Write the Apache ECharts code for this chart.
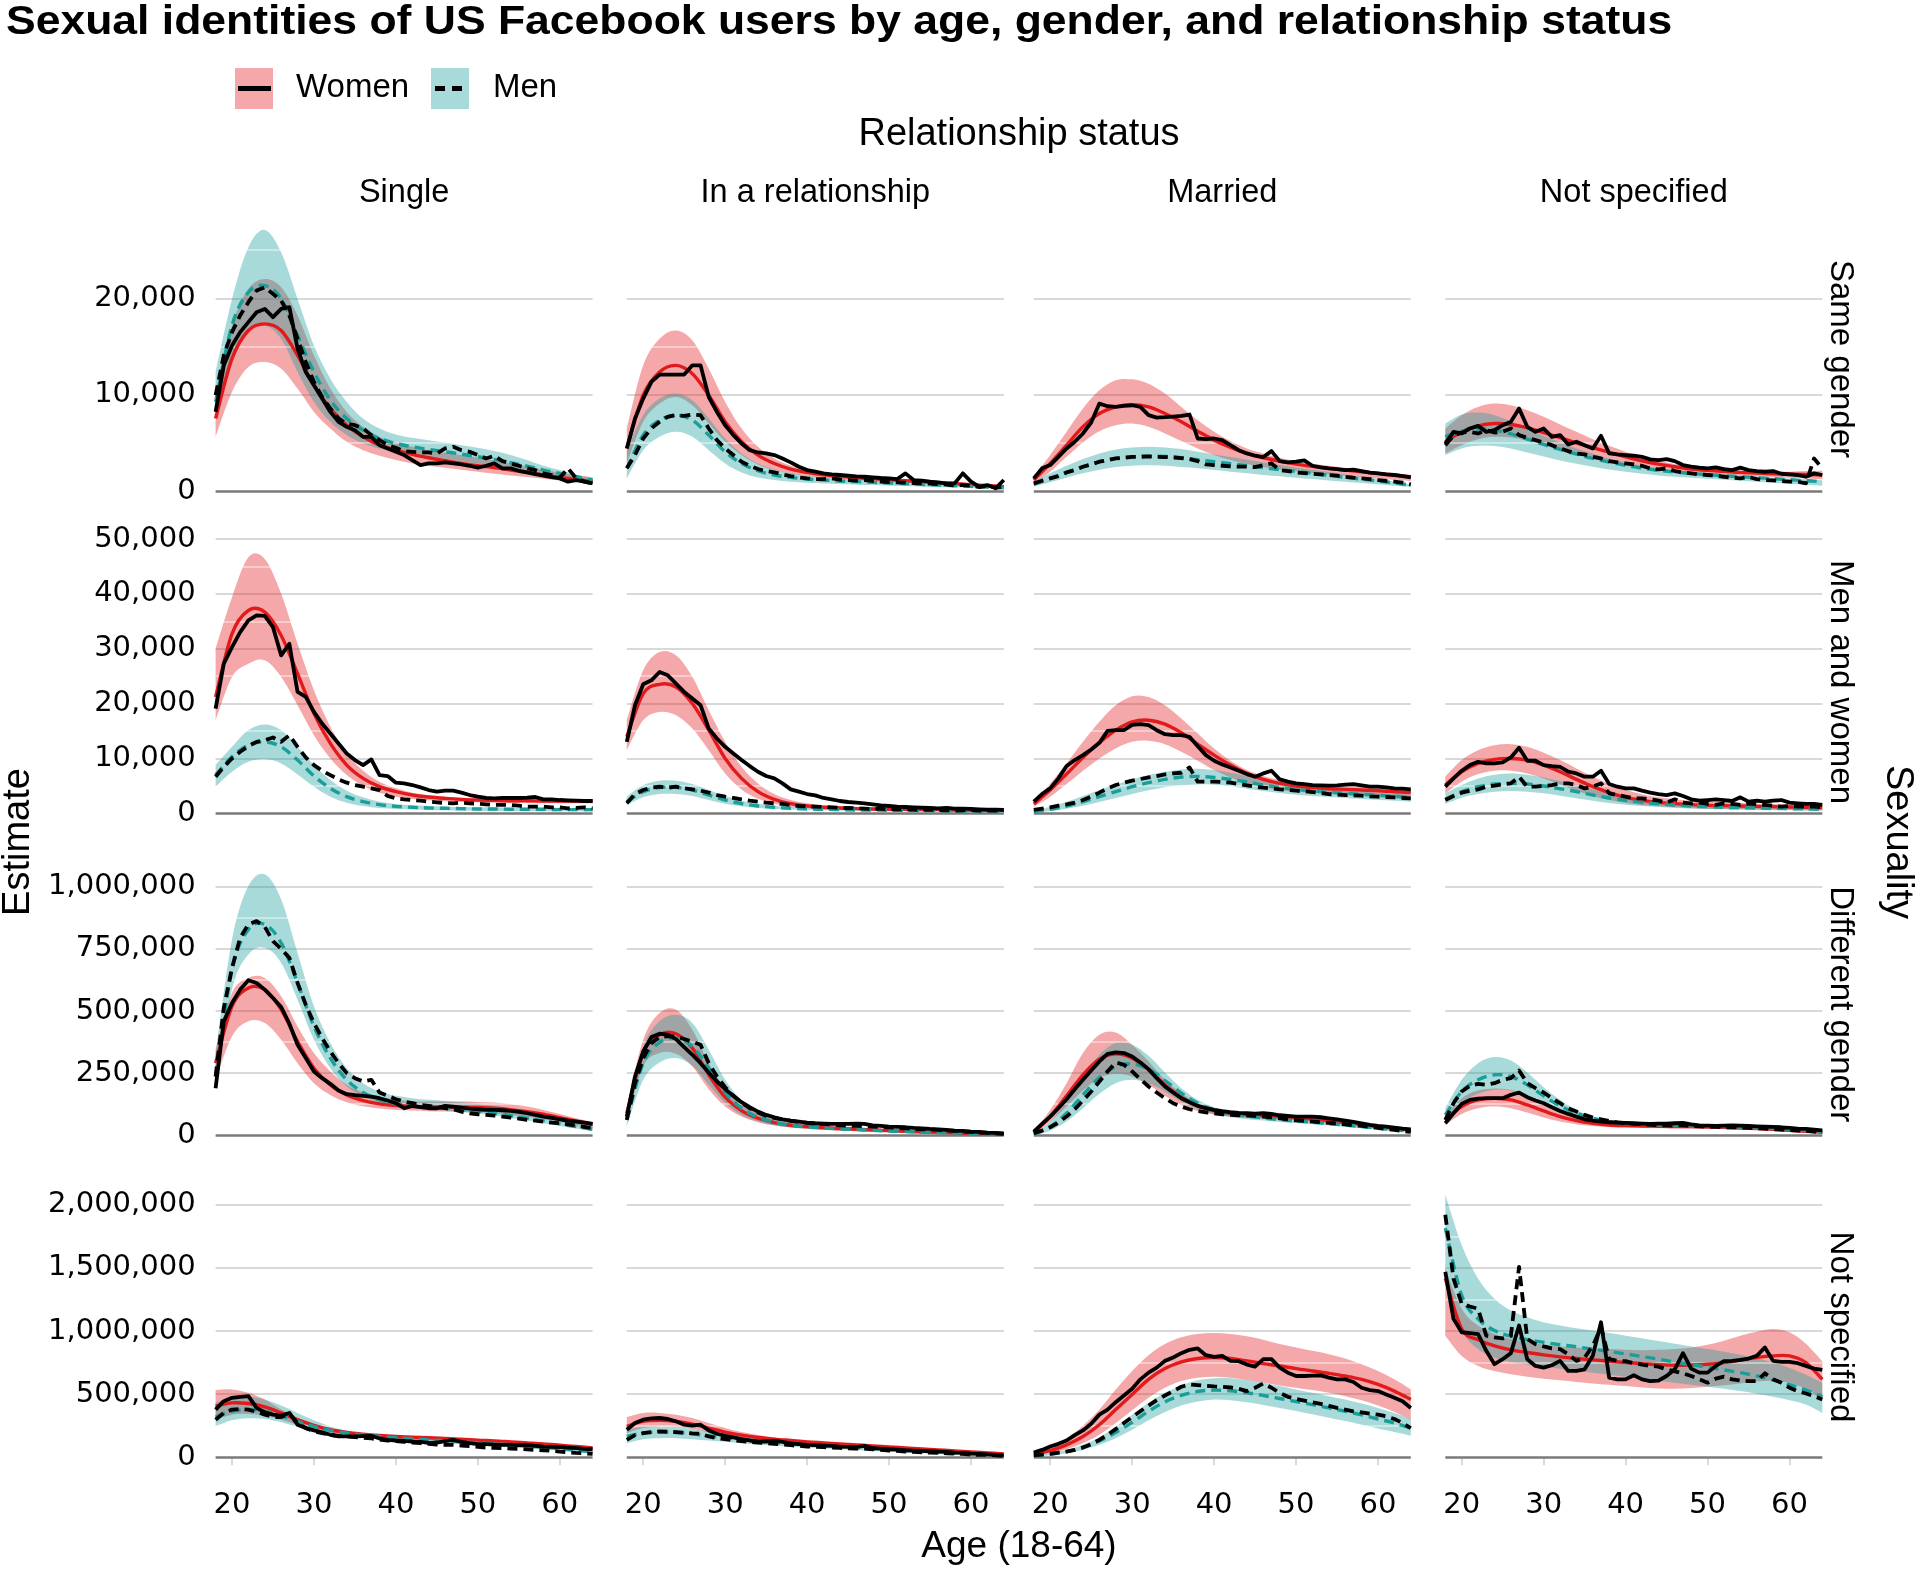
<!DOCTYPE html>
<html><head><meta charset="utf-8">
<script src="https://cdn.jsdelivr.net/npm/echarts@6/dist/echarts.min.js"></script>
<style>html,body{margin:0;padding:0;background:#fff}#chart{width:1920px;height:1570px}</style>
</head><body><div id="chart"></div>
<script>
// ---------- axes / categories ----------
const ages = [18,19,20,21,22,23,24,25,26,27,28,29,30,31,32,33,34,35,36,37,38,39,40,41,42,43,44,45,46,47,48,49,50,51,52,53,54,55,56,57,58,59,60,61,62,63,64];
const fitAges = [18,20,22,24,26,28,30,32,34,36,38,40,42,44,46,48,50,52,54,56,58,60,62,64];
const xTicks = [20,30,40,50,60];
const row1Ticks = [0,10000,20000];
const row2Ticks = [0,10000,20000,30000,40000,50000];
const row3Ticks = [0,250000,500000,750000,1000000];
const row4Ticks = [0,500000,1000000,1500000,2000000];
const relationshipStatus = ['Single','In a relationship','Married','Not specified'];
const sexuality = ['Same gender','Men and women','Different gender','Not specified'];

// ---------- Same gender ----------
const SG_Sin_wHi = [9940,17180,20980,22010,21150,18220,14080,10630,8210,6660,5620,5000,4590,4240,3970,3730,3450,3170,2860,2520,2170,1900,1660,1410];
const SG_Sin_wFit = [7520,13730,16660,17350,16660,14080,10970,8560,6830,5620,4760,4240,3800,3450,3140,2860,2620,2420,2170,1930,1660,1410,1210,970];
const SG_Sin_wLo = [5620,10280,12870,13390,12700,10630,8210,6490,5110,4240,3660,3210,2860,2620,2420,2210,2000,1790,1620,1450,1280,1100,970,790];
const SG_Sin_mHi = [12350,19900,25300,27100,24770,19940,15100,11660,9250,7520,6490,5870,5520,5280,5040,4760,4490,4140,3730,3210,2620,2170,1725,1310];
const SG_Sin_mFit = [9250,17180,20630,21320,19940,16150,12350,9420,7520,6310,5450,4930,4590,4310,4070,3830,3550,3280,2930,2590,2170,1830,1480,1140];
const SG_Sin_mLo = [7520,14080,16660,17180,15800,12350,9250,7180,5800,4930,4420,4070,3800,3550,3350,3100,2860,2620,2350,2070,1790,1520,1280,1040];
const SG_Sin_wObs = [8210,13040,15110,16490,17530,18560,18900,18040,18900,19080,14770,12350,10970,9590,8210,7180,6660,6310,5620,5620,4760,4420,4070,3730,3210,2690,2860,2860,2970,2860,2760,2620,2420,2620,2860,2350,2350,2100,1930,1760,1590,1450,1310,970,1140,970,790];
const SG_Sin_mObs = [9940,14080,16490,18220,19600,20800,21150,20460,19770,18220,15800,13390,11320,9760,8560,7520,7000,6830,6490,5800,5280,4760,4490,4140,4070,4000,4000,3900,4420,4590,4240,4070,3730,3380,3660,3100,2860,2620,2350,2170,1830,1660,1380,2350,1310,970,790];

const SG_Rel_wHi = [6490,13040,15800,16660,15630,12700,9250,6490,4590,3380,2620,2170,1900,1725,1590,1450,1310,1210,1100,1000,900,790,690,590];
const SG_Rel_wFit = [4420,9940,12350,13040,12180,9940,7180,5110,3730,2860,2280,1930,1690,1520,1380,1280,1170,1070,970,860,760,660,550,450];
const SG_Rel_wLo = [2860,7180,9070,9760,8900,7000,5110,3730,2760,2170,1790,1550,1380,1240,1140,1040,930,860,760,690,590,520,450,345];
const SG_Rel_mHi = [4240,7870,9590,10110,9420,7520,5450,3900,2860,2240,1830,1590,1410,1280,1170,1070,970,860,760,690,590,520,410,345];
const SG_Rel_mFit = [2350,5800,7350,7870,7350,5800,4070,2860,2100,1660,1410,1240,1140,1040,970,900,830,760,690,620,550,480,410,345];
const SG_Rel_mLo = [1310,4240,5620,6140,5620,4240,2860,1930,1410,1140,970,860,790,720,660,620,550,520,450,410,380,345,310,280];
const SG_Rel_wObs = [4420,7520,9590,11320,12080,12080,12080,12080,13040,13040,9760,8210,6830,5800,4930,4240,4000,3900,3730,3380,2970,2520,2170,2000,1830,1725,1660,1590,1520,1480,1410,1350,1310,1240,1830,1140,1070,970,900,790,790,1830,970,450,620,280,1140];
const SG_Rel_mObs = [2350,3730,5450,6490,7180,7700,7870,7800,7940,7870,6490,5280,4420,3730,3040,2620,2280,2070,1930,1725,1550,1410,1310,1240,1240,1310,1170,1140,1070,1140,1040,970,930,900,860,830,790,760,720,660,590,620,550,410,550,345,450];

const SG_Mar_wHi = [1480,3730,6140,8560,10450,11490,11590,11140,10110,8730,7350,6140,5180,4420,3900,3450,3100,2830,2620,2420,2170,1930,1660,1380];
const SG_Mar_wFit = [1140,2860,4760,6660,8040,8730,8970,8730,8040,7180,6210,5280,4520,3900,3450,3100,2790,2550,2350,2170,2000,1830,1660,1480];
const SG_Mar_wLo = [790,2000,3550,5040,6210,6830,7000,6660,5970,5180,4420,3730,3210,2790,2480,2240,2040,1860,1725,1590,1450,1310,1170,1040];
const SG_Mar_mHi = [970,1830,2620,3310,3900,4310,4520,4590,4520,4350,4070,3800,3520,3240,2970,2690,2450,2210,1970,1725,1480,1240,970,690];
const SG_Mar_mFit = [690,1310,1930,2520,3040,3380,3550,3620,3590,3450,3240,3040,2830,2620,2420,2210,2040,1830,1620,1410,1240,1040,830,620];
const SG_Mar_mLo = [450,900,1380,1830,2210,2480,2620,2660,2620,2480,2350,2170,2000,1830,1660,1520,1380,1240,1100,970,830,690,550,410];
const SG_Mar_wObs = [1310,2350,2690,3550,4420,5110,5970,7110,9070,8800,8730,8830,8900,8730,7870,7620,7660,7730,7800,7940,5450,5380,5450,5280,4760,4240,3900,3660,3520,4140,3100,2970,3040,3170,2620,2450,2350,2280,2170,2210,2070,1900,1830,1725,1660,1550,1410];
const SG_Mar_mObs = [790,1070,1310,1550,1930,2170,2520,2760,3040,3210,3380,3450,3550,3550,3590,3550,3520,3480,3420,3310,3100,2760,2690,2620,2550,2520,2520,2480,2690,2860,2170,2070,1930,1860,1790,1725,1660,1590,1480,1380,1310,1240,1140,1040,970,860,690];

const SG_Uns_wHi = [6490,7870,8730,9070,8900,8380,7700,6900,6140,5380,4690,4070,3550,3140,2790,2520,2350,2210,2100,2040,2000,2000,2070,2100];
const SG_Uns_wFit = [5110,6140,6760,7000,6900,6560,6070,5550,5000,4490,4000,3550,3140,2790,2520,2280,2140,2040,1930,1860,1790,1760,1725,1660];
const SG_Uns_wLo = [3900,4760,5380,5620,5550,5240,4760,4280,3800,3350,2970,2620,2350,2140,1970,1830,1725,1660,1590,1520,1450,1380,1310,1210];
const SG_Uns_mHi = [7000,7940,8140,7870,7250,6490,5730,5040,4420,3860,3380,2970,2620,2350,2140,1970,1830,1725,1620,1520,1410,1310,1210,1100];
const SG_Uns_mFit = [5620,6210,6420,6310,5930,5380,4830,4310,3830,3380,3000,2660,2380,2140,1970,1830,1690,1590,1480,1380,1280,1170,1070,970];
const SG_Uns_mLo = [3730,4420,4690,4660,4420,4000,3590,3170,2830,2520,2240,2000,1790,1620,1480,1380,1280,1170,1070,970,860,760,660,550];
const SG_Uns_wObs = [4930,6140,5970,6490,6760,6140,6310,6830,7180,8560,6660,6140,6490,5620,5800,4830,5110,4760,4420,5730,3900,3800,3730,3660,3550,3280,3210,3310,3100,2690,2520,2420,2350,2450,2280,2170,2420,2170,2070,2000,2070,1790,1725,1660,1480,1830,1660];
const SG_Uns_mObs = [4760,5730,6070,6140,5970,6310,6070,6140,6490,5800,5520,5280,5040,4760,4420,4140,3900,3800,3550,3380,3100,2970,2860,2760,2620,2350,2240,2350,2070,1930,1830,1725,1660,1590,1480,1380,1310,1450,1240,1140,1100,1040,970,970,790,3380,2350];

// ---------- Men and women ----------
const MW_Sin_wHi = [30000,39390,46660,46360,40000,30900,22420,15760,10910,7760,5760,4545,3760,3270,2970,2790,2670,2610,2545,2545,2545,2545,2545,2545];
const MW_Sin_wFit = [21200,32720,36970,36660,32420,25450,18180,12730,8790,6360,4850,3940,3330,2970,2730,2545,2420,2360,2300,2300,2240,2240,2240,2240];
const MW_Sin_wLo = [16970,24850,27270,27880,24850,19700,14240,10000,6970,4970,3760,3030,2610,2360,2180,2060,2000,1940,1880,1880,1820,1820,1820,1820];
const MW_Sin_mHi = [8790,12120,15150,16180,15150,12120,8790,6060,4120,2910,2120,1700,1450,1330,1210,1150,1090,1090,1030,1030,970,970,970,910];
const MW_Sin_mFit = [6970,10300,12420,13030,12120,9700,6790,4550,3030,2120,1575,1270,1090,970,910,850,790,790,730,730,730,670,670,670];
const MW_Sin_mLo = [4850,7580,9390,9880,9090,7090,4850,3030,1940,1330,970,790,670,610,545,485,485,425,425,425,360,360,360,360];
const MW_Sin_wObs = [19090,27270,30300,33030,35150,36060,36000,33940,28790,30910,22120,21210,18480,16360,14540,12730,10910,9700,8790,9820,6970,6790,5580,5450,5150,4730,4240,3940,4120,4120,3760,3330,3030,2790,2730,2790,2790,2790,2850,2970,2545,2545,2420,2360,2300,2240,2240];
const MW_Sin_mObs = [6670,8480,10000,11210,12240,13030,13330,13820,13030,14240,12120,10180,8790,7760,6970,6180,5580,5150,4850,4550,4240,3150,2730,2545,2420,2300,2120,2000,1880,1820,1940,1820,1760,1640,1520,1520,1520,1390,1210,1210,1210,1090,1090,910,970,1090,910];

const MW_Rel_wHi = [16970,26060,29390,28790,24850,18790,13030,8480,5450,3510,2420,1820,1450,1270,1150,1090,1030,970,910,850,850,790,790,730];
const MW_Rel_wFit = [13940,21820,23510,23030,20000,15150,10000,6360,3940,2545,1760,1330,1090,970,850,790,730,730,670,670,610,610,545,545];
const MW_Rel_wLo = [11510,16970,18480,17880,15450,11510,7270,4360,2670,1760,1210,910,730,670,610,545,485,485,425,425,425,360,360,360];
const MW_Rel_mHi = [3030,5150,5940,5940,5330,4240,3150,2300,1760,1390,1150,1030,910,850,790,730,670,670,610,610,545,545,485,485];
const MW_Rel_mFit = [2120,3940,4670,4730,4240,3330,2420,1760,1330,1090,910,790,730,670,610,610,545,545,485,485,425,425,425,360];
const MW_Rel_mLo = [1520,2910,3510,3510,3150,2420,1760,1270,970,790,670,610,545,485,485,425,425,360,360,360,300,300,300,240];
const MW_Rel_wObs = [13030,19700,23510,24240,25760,25150,23630,22120,20910,19700,15450,13640,12120,10910,9700,8610,7580,6790,6360,5450,4360,3940,3510,3270,2790,2545,2240,2060,1940,1820,1640,1450,1330,1210,1150,1090,1030,970,910,970,850,850,790,730,670,670,610];
const MW_Rel_mObs = [1820,3510,4240,4670,4850,4670,4850,4545,4360,4120,3760,3330,3030,2790,2545,2300,2120,1940,1820,1700,1520,1330,1270,1210,1150,1090,1030,970,910,850,790,790,730,730,670,670,610,610,610,545,485,545,610,485,485,485,485];

const MW_Mar_wHi = [2120,5450,9090,13030,16670,19700,21330,21210,19700,17270,14540,11820,9580,7880,6790,6060,5580,5270,5090,4970,4850,4730,4610,4480];
const MW_Mar_wFit = [1700,4240,7150,10180,12850,15150,16670,16970,16240,14670,12600,10600,8790,7270,6180,5450,4970,4670,4480,4360,4240,4120,3940,3760];
const MW_Mar_wLo = [1210,3030,5330,7760,10000,11820,13030,13210,12600,11210,9580,7880,6540,5450,4730,4240,3940,3760,3640,3510,3390,3270,3150,3030];
const MW_Mar_mHi = [485,1210,2120,3150,4240,5270,6180,6970,7580,8000,8120,7880,7390,6790,6180,5640,5150,4730,4420,4180,3940,3760,3580,3390];
const MW_Mar_mFit = [300,730,1330,2120,3030,3940,4850,5580,6180,6610,6730,6540,6180,5700,5150,4730,4360,4060,3820,3640,3450,3270,3090,2910];
const MW_Mar_mLo = [180,425,850,1390,2060,2790,3510,4180,4730,5090,5270,5210,4910,4480,4060,3700,3390,3150,2970,2790,2610,2420,2300,2120];
const MW_Mar_wObs = [2120,3510,4545,6360,8610,9700,10600,11630,12850,15030,15150,15150,16120,16240,16060,15150,14420,14240,14240,13940,12240,10600,9580,8910,8360,7760,7150,6670,7270,7760,6180,5760,5450,5330,5150,5090,5030,5090,5210,5330,5090,4850,4850,4730,4545,4480,4360];
const MW_Mar_mObs = [610,850,1090,1390,1640,1940,2420,3030,3760,4545,5150,5580,5940,6240,6540,6790,7090,7270,7390,8360,5760,5760,5760,5700,5580,5330,5090,4850,4670,4545,4360,4240,4120,4000,3880,3700,3510,3390,3330,3270,3210,3090,3030,2970,2910,2790,2730];

const MW_Uns_wHi = [6670,9700,11510,12420,12600,12120,11030,9700,8180,6670,5330,4240,3450,2910,2545,2300,2120,2000,1880,1760,1700,1640,1575,1520];
const MW_Uns_wFit = [5150,7580,9090,9820,10000,9700,8790,7580,6180,4850,3760,2910,2360,2000,1760,1575,1450,1390,1330,1270,1210,1150,1090,1030];
const MW_Uns_wLo = [3640,5760,7150,7760,7760,7270,6360,5270,4120,3150,2420,1880,1520,1270,1090,970,850,790,730,730,670,670,610,610];
const MW_Uns_mHi = [3640,5150,6360,7030,7270,7030,6540,5880,5150,4360,3640,3030,2545,2120,1820,1575,1390,1270,1150,1090,1030,970,910,850];
const MW_Uns_mFit = [2545,3940,4850,5330,5450,5330,4970,4480,3940,3330,2790,2360,2000,1760,1520,1330,1210,1090,1030,970,910,850,790,730];
const MW_Uns_mLo = [1700,2850,3510,3940,4060,3940,3640,3210,2730,2300,1880,1575,1330,1150,970,850,790,730,670,610,545,545,485,485];
const MW_Uns_wObs = [4850,6360,7760,8790,9390,9090,9090,9270,10180,11940,9580,9580,8790,8610,8480,7580,7270,6670,6670,7760,5330,4850,4545,4545,4120,3760,3510,3330,3640,3150,2545,2300,2420,2545,2420,2240,2910,2120,2300,2120,2300,2420,1940,1820,1700,1700,1520];
const MW_Uns_mObs = [2420,3150,3760,4120,4360,4850,5030,5270,5450,6670,4850,4850,4970,5150,5450,5450,5150,4545,4850,5450,3640,3330,3030,2730,2730,2545,2300,1940,2545,1940,1820,1940,1700,1520,1820,1700,1520,1820,1640,1520,1390,1210,1330,1210,1210,1210,1090];

// ---------- Different gender ----------
const DG_Sin_wHi = [344100,572500,633000,633000,559100,438100,330600,256700,202900,172000,153200,142500,138400,135700,135700,135700,134400,131700,125000,115600,102100,86000,68500,52400];
const DG_Sin_wFit = [290300,518800,592700,586000,505300,377700,270100,202900,162600,139800,126300,119600,115600,114200,112900,112900,111600,108900,103500,95400,84700,71200,57800,44400];
const DG_Sin_wLo = [223100,397800,458300,451600,384400,290300,209700,162600,133100,116900,107500,102100,99500,96800,95400,94100,92700,88700,82000,75300,64500,53800,41700,29600];
const DG_Sin_mHi = [330600,787600,1002600,1049700,948900,733800,518800,370900,270100,209700,176100,158600,149200,142500,138400,133100,126300,118300,107500,95400,82000,68500,55100,41700];
const DG_Sin_mFit = [236500,666600,827900,848100,774100,612900,438100,310500,223100,172000,142500,126300,118300,112900,108900,103500,96800,88700,79300,68500,57800,45700,34900,24200];
const DG_Sin_mLo = [182800,586000,727100,754000,693500,545700,384400,270100,196200,155900,131700,118300,110200,104800,99500,94100,87400,79300,69900,59100,48400,37600,26900,17500];
const DG_Sin_wObs = [189500,458300,532200,586000,623600,612900,586000,552400,516100,448900,364200,310500,256700,229800,207000,180100,165300,161300,158600,155900,149200,139800,129000,108900,118300,112900,108900,108900,118300,115600,111600,107500,104800,102100,102100,100800,98100,94100,88700,82000,75300,69900,64500,59100,55100,51100,45700];
const DG_Sin_mObs = [236500,512100,673300,794300,848100,861500,838700,780900,750000,713700,612900,525500,451600,391100,337300,290300,250000,229800,216400,223100,172000,158600,145200,135700,129000,122300,118300,112900,108900,104800,95400,88700,84700,82000,79300,75300,71200,67200,61800,59100,55100,51100,48400,44400,39000,33600,28200];

const DG_Rel_wHi = [115600,384400,491900,505300,424700,290300,189500,126300,88700,67200,53800,45700,40300,36300,32300,28200,25500,21500,18800,16100,13400,10800,9400,8100];
const DG_Rel_wFit = [88700,330600,404500,408600,350800,243300,153200,99500,68500,51100,40300,34900,30900,26900,24200,21500,18800,16100,13400,12100,9400,8100,6700,5400];
const DG_Rel_wLo = [61800,276900,330600,327900,276900,185500,115600,75300,52400,39000,30900,25500,21500,18800,16100,13400,12100,9400,8100,6700,5400,4000,4000,2700];
const DG_Rel_mHi = [102100,357500,458300,485200,451600,344100,223100,139800,91400,64500,49700,41700,36300,32300,28200,25500,22800,20200,17500,14800,12100,10800,8100,6700];
const DG_Rel_mFit = [61800,290300,373600,391100,357500,270100,172000,108900,72600,52400,40300,33600,29600,25500,22800,20200,17500,14800,13400,10800,9400,8100,6700,5400];
const DG_Rel_mLo = [34900,223100,293000,310500,279600,202900,129000,82000,55100,40300,32300,26900,22800,20200,17500,14800,13400,10800,9400,8100,6700,5400,4000,2700];
const DG_Rel_wObs = [75300,236500,337300,395100,408600,404500,387100,354800,323900,290300,252700,216400,185500,158600,133100,112900,95400,82000,72600,64500,59100,55100,51100,48400,47000,45700,45700,45700,47000,45700,40300,37600,34900,33600,32300,29600,28200,25500,24200,21500,18800,17500,14800,13400,10800,9400,8100];
const DG_Rel_mObs = [61800,209700,310500,370900,395100,397800,397800,387100,376300,364200,290300,236500,193500,158600,131700,108900,91400,78000,69900,63200,57800,53800,49700,47000,45700,43000,40300,39000,37600,36300,34900,33600,32300,29600,28200,25500,24200,22800,21500,18800,17500,14800,13400,10800,9400,8100,5400];

const DG_Mar_wHi = [14800,102100,209700,330600,404500,414000,364200,297000,223100,169300,131700,108900,98100,92700,88700,84700,79300,72600,64500,55100,45700,37600,30900,24200];
const DG_Mar_wFit = [10800,75300,158600,243300,306400,327900,310500,263400,202900,153200,118300,98100,87400,82000,78000,73900,69900,64500,57800,51100,43000,34900,28200,21500];
const DG_Mar_wLo = [8100,55100,115600,180100,229800,247300,236500,202900,158600,122300,98100,83300,75300,71200,67200,63200,59100,53800,48400,41700,34900,28200,21500,16100];
const DG_Mar_mHi = [8100,55100,135700,236500,323900,370900,364200,319900,252700,189500,142500,112900,95400,84700,76600,69900,63200,56400,49700,43000,36300,29600,22800,16100];
const DG_Mar_mFit = [4000,34900,88700,162600,232500,276900,287600,266100,220400,169300,129000,102100,86000,76600,69900,63200,57800,52400,47000,41700,34900,28200,22800,16100];
const DG_Mar_mLo = [1300,18800,55100,108900,166700,209700,223100,209700,176100,135700,104800,84700,72600,64500,59100,53800,48400,44400,39000,33600,28200,22800,17500,12100];
const DG_Mar_wObs = [14800,45700,75300,108900,145200,185500,223100,260700,297000,327900,333300,330600,317200,293000,266100,229800,196200,172000,149200,133100,118300,108900,102100,96800,92700,90000,88700,87400,88700,86000,80600,78000,75300,75300,75300,72600,68500,64500,59100,53800,48400,41700,37600,34900,30900,26900,24200];
const DG_Mar_mObs = [8100,18800,32300,51100,75300,104800,139800,176100,216400,256700,293000,283600,256700,225800,196200,172000,149200,129000,115600,104800,98100,92700,88700,84700,82000,80600,79300,78000,75300,72600,68500,64500,60500,57800,55100,52400,49700,47000,44400,40300,37600,33600,29600,25500,21500,17500,13400];

const DG_Uns_wHi = [75300,149200,180100,188200,182800,162600,131700,99500,75300,59100,51100,47000,45700,44400,43000,43000,41700,40300,37600,34900,30900,26900,21500,16100];
const DG_Uns_wFit = [59100,115600,142500,149200,142500,122300,98100,75300,59100,48400,41700,39000,37600,36300,34900,34900,33600,32300,29600,26900,24200,20200,16100,12100];
const DG_Uns_wLo = [41700,86000,108900,115600,108900,91400,71200,55100,44400,37600,33600,30900,29600,28200,28200,26900,26900,25500,24200,21500,18800,16100,12100,8100];
const DG_Uns_mHi = [108900,223100,290300,314500,301100,252700,193500,142500,102100,75300,59100,51100,47000,44400,41700,40300,39000,37600,34900,32300,28200,24200,20200,16100];
const DG_Uns_mFit = [82000,176100,223100,243300,236500,202900,158600,118300,88700,68500,55100,48400,44400,41700,39000,37600,36300,34900,32300,29600,26900,22800,18800,14800];
const DG_Uns_mLo = [55100,129000,166700,182800,180100,155900,122300,91400,68500,53800,45700,40300,37600,34900,33600,32300,30900,29600,26900,24200,21500,18800,14800,10800];
const DG_Uns_wObs = [48400,88700,126300,142500,147800,149200,149200,149200,162600,172000,153200,139800,129000,112900,98100,86000,75300,64500,59100,55100,52400,51100,49700,48400,47000,45700,47000,47000,48400,49700,44400,40300,39000,37600,39000,40300,39000,37600,36300,34900,33600,32300,29600,26900,25500,22800,20200];
const DG_Uns_mObs = [61800,129000,176100,198900,207000,202900,209700,223100,229800,260700,209700,189500,172000,149200,129000,108900,95400,82000,71200,64500,57800,52400,48400,45700,44400,41700,40300,40300,39000,40300,37600,36300,34900,33600,32300,32300,30900,29600,28200,26900,24200,22800,21500,18800,17500,14800,12100];

// ---------- Not specified ----------
const NS_Sin_wHi = [532000,537300,510700,457500,377700,311200,258000,218100,191500,175600,164900,159600,154300,151600,149000,143600,138300,133000,125000,117000,109100,98400,87800,77100];
const NS_Sin_wFit = [404300,430900,425600,399000,351100,297900,252700,218100,196800,183500,172900,164900,159600,154300,149000,143600,135700,130300,122400,114400,106400,95800,85100,74500];
const NS_Sin_wLo = [297900,337800,343100,329800,297900,258000,223400,196800,178200,164900,156900,149000,143600,138300,133000,127700,122400,117000,109100,101100,93100,85100,74500,63800];
const NS_Sin_mHi = [430900,470800,478800,457500,409600,351100,292600,244700,212800,191500,178200,167600,159600,151600,143600,135700,127700,119700,111700,103700,93100,82500,69200,55900];
const NS_Sin_mFit = [319200,364400,377700,364400,329800,284600,244700,212800,191500,175600,164900,154300,146300,138300,130300,122400,114400,106400,98400,90400,79800,69200,55900,42600];
const NS_Sin_mLo = [244700,292600,308600,303200,276600,239400,204800,180900,164900,151600,143600,135700,127700,119700,111700,103700,95800,87800,79800,71800,61200,50500,39900,29300];
const NS_Sin_wObs = [377700,444200,470800,478800,484100,391000,356400,337800,329800,351100,258000,231400,212800,196800,178200,164900,164900,164900,167600,170200,149000,138300,133000,130300,125000,122400,114400,117000,127700,138300,122400,111700,103700,103700,101100,98400,98400,95800,95800,90400,85100,82500,79800,77100,71800,66500,63800];
const NS_Sin_mObs = [297900,351100,377700,383000,377700,359100,337800,319200,319200,345800,271300,231400,204800,191500,178200,170200,164900,159600,154300,149000,141000,133000,127700,122400,117000,111700,106400,101100,98400,98400,93100,87800,82500,77100,74500,71800,69200,66500,63800,58500,55900,50500,45200,39900,34600,31900,26600];

const NS_Rel_wHi = [319200,351100,351100,337800,311200,271300,231400,199500,175600,156900,143600,133000,122400,114400,106400,98400,90400,82500,74500,66500,58500,50500,42600,34600];
const NS_Rel_wFit = [244700,284600,292600,284600,263300,231400,199500,175600,156900,143600,133000,122400,114400,106400,98400,90400,82500,74500,66500,58500,50500,42600,34600,26600];
const NS_Rel_wLo = [191500,231400,244700,239400,223400,196800,172900,151600,138300,127700,117000,109100,101100,93100,85100,77100,69200,61200,53200,45200,37200,31900,23900,18600];
const NS_Rel_mHi = [218100,239400,244700,239400,223400,202200,180900,162200,146300,133000,122400,111700,103700,95800,87800,79800,71800,63800,55900,47900,39900,31900,23900,18600];
const NS_Rel_mFit = [164900,191500,199500,196800,186200,170200,154300,141000,127700,117000,106400,98400,90400,82500,74500,66500,58500,50500,45200,37200,31900,26600,21300,16000];
const NS_Rel_mLo = [111700,143600,151600,151600,143600,133000,122400,111700,101100,93100,85100,77100,69200,63800,55900,50500,45200,37200,31900,26600,21300,16000,13300,8000];
const NS_Rel_wObs = [218100,271300,297900,308600,311200,303200,284600,258000,250000,258000,212800,186200,170200,156900,143600,133000,125000,125000,130300,122400,109100,103700,98400,95800,93100,90400,85100,82500,79800,90400,71800,69200,63800,61200,55900,53200,50500,47900,45200,42600,37200,34600,29300,26600,23900,18600,16000];
const NS_Rel_mObs = [138300,175600,191500,199500,204800,202200,199500,194200,188800,186200,164900,151600,143600,135700,127700,122400,117000,111700,106400,101100,95800,90400,85100,82500,79800,77100,74500,71800,69200,69200,63800,58500,53200,50500,45200,42600,39900,37200,34600,31900,29300,26600,21300,18600,18600,16000,10600];

const NS_Mar_wHi = [45200,85100,151600,250000,377700,537300,683600,808600,896400,949600,976200,984200,976200,957600,931000,896400,869800,843200,816600,782000,736800,683600,617100,537300];
const NS_Mar_wFit = [26600,53200,98400,164900,258000,377700,497400,617100,702200,755400,782000,790000,782000,763400,742100,723500,702200,683600,665000,643700,617100,577200,524000,457500];
const NS_Mar_wLo = [16000,31900,63800,111700,178200,271300,372400,470800,550600,603800,630400,638400,630400,611800,590500,569200,550600,532000,510700,484100,452200,409600,359100,297900];
const NS_Mar_mHi = [16000,31900,58500,98400,159600,244700,337800,430900,510700,569200,609100,625100,625100,611800,590500,563900,537300,510700,484100,457500,425600,391000,351100,303200];
const NS_Mar_mFit = [10600,23900,45200,79800,130300,196800,276600,364400,438900,489400,521400,532000,526700,510700,489400,465500,441600,417600,391000,364400,335200,303200,271300,231400];
const NS_Mar_mLo = [5300,16000,31900,58500,98400,151600,218100,292600,359100,409600,441600,457500,452200,436200,415000,391000,367100,340500,313900,287300,258000,228800,199500,170200];
const NS_Mar_wObs = [37200,58500,85100,106400,133000,175600,212800,266000,337800,377700,436200,489400,542600,617100,670300,710200,763400,790000,824600,851200,861800,808600,795300,803300,763400,760800,734200,718200,776700,776700,710200,670300,643700,643700,646400,649000,630400,617100,617100,595800,550600,532000,524000,497400,470800,444200,391000];
const NS_Mar_mObs = [16000,21300,26600,37200,45200,58500,77100,103700,138300,178200,223400,271300,319200,364400,409600,452200,489400,524000,558600,577200,571900,566600,561300,558600,553300,542600,524000,550600,585200,550600,510700,478800,462800,449500,436200,422900,407000,391000,377700,364400,356000,345800,337800,324500,303200,271300,231400];

const NS_Uns_wHi = [1495000,1176000,1043000,976000,936000,910000,891000,878000,870000,862000,856500,851000,848000,851000,856500,870000,891000,923000,963000,995000,1016000,990000,900000,760000];
const NS_Uns_wFit = [1415000,1016000,931000,883000,851000,830000,811000,795000,782000,771000,761000,750000,742000,734000,729000,731000,737000,750000,769000,790000,803000,803000,750000,617100];
const NS_Uns_wLo = [963000,803000,723500,683600,657000,638400,622400,609100,595800,585200,574600,563900,553300,545300,542600,548000,558000,570000,585000,600000,605000,590000,540000,460000];
const NS_Uns_mHi = [2080000,1681000,1415000,1256000,1162000,1109000,1069000,1043000,1021000,1003000,984000,963000,942000,920000,899000,878000,856500,835000,811000,785000,750000,707600,654000,590500];
const NS_Uns_mFit = [1814000,1282000,1096000,1003000,958000,931000,910000,891000,875000,856500,838000,819000,798000,777000,755000,734000,713000,692000,670000,644000,612000,575000,532000,479000];
const NS_Uns_mLo = [1468000,1016000,856500,790000,755000,734000,718000,702000,686000,670000,654000,638000,622000,606000,590500,575000,558600,542600,524000,503000,479000,452000,417600,351100];
const NS_Uns_wObs = [1468000,1096000,990000,984000,976000,843000,737000,776700,824600,1043000,776700,723500,710000,729000,763400,683600,683600,697000,803300,1069000,630400,617100,617100,649000,617100,603800,606500,643700,697000,824600,702200,670300,670300,723500,760800,763400,771400,782000,803300,869800,763400,755400,755400,744800,723500,702200,691600];
const NS_Uns_mObs = [1920000,1415000,1216000,1194000,1176000,963000,950000,942000,963000,1508000,936000,896000,878000,862000,856500,816600,763400,790000,883000,1029000,776700,763400,760800,744800,734200,723500,718200,697000,681000,665000,643700,617100,590500,622400,638400,617100,609100,603800,603800,665000,617100,590500,550600,524000,505400,484100,457500];

// ---------- table built from the named arrays ----------
const panels = [
 [ {wLo:SG_Sin_wLo,wFit:SG_Sin_wFit,wHi:SG_Sin_wHi,mLo:SG_Sin_mLo,mFit:SG_Sin_mFit,mHi:SG_Sin_mHi,wObs:SG_Sin_wObs,mObs:SG_Sin_mObs},
   {wLo:SG_Rel_wLo,wFit:SG_Rel_wFit,wHi:SG_Rel_wHi,mLo:SG_Rel_mLo,mFit:SG_Rel_mFit,mHi:SG_Rel_mHi,wObs:SG_Rel_wObs,mObs:SG_Rel_mObs},
   {wLo:SG_Mar_wLo,wFit:SG_Mar_wFit,wHi:SG_Mar_wHi,mLo:SG_Mar_mLo,mFit:SG_Mar_mFit,mHi:SG_Mar_mHi,wObs:SG_Mar_wObs,mObs:SG_Mar_mObs},
   {wLo:SG_Uns_wLo,wFit:SG_Uns_wFit,wHi:SG_Uns_wHi,mLo:SG_Uns_mLo,mFit:SG_Uns_mFit,mHi:SG_Uns_mHi,wObs:SG_Uns_wObs,mObs:SG_Uns_mObs} ],
 [ {wLo:MW_Sin_wLo,wFit:MW_Sin_wFit,wHi:MW_Sin_wHi,mLo:MW_Sin_mLo,mFit:MW_Sin_mFit,mHi:MW_Sin_mHi,wObs:MW_Sin_wObs,mObs:MW_Sin_mObs},
   {wLo:MW_Rel_wLo,wFit:MW_Rel_wFit,wHi:MW_Rel_wHi,mLo:MW_Rel_mLo,mFit:MW_Rel_mFit,mHi:MW_Rel_mHi,wObs:MW_Rel_wObs,mObs:MW_Rel_mObs},
   {wLo:MW_Mar_wLo,wFit:MW_Mar_wFit,wHi:MW_Mar_wHi,mLo:MW_Mar_mLo,mFit:MW_Mar_mFit,mHi:MW_Mar_mHi,wObs:MW_Mar_wObs,mObs:MW_Mar_mObs},
   {wLo:MW_Uns_wLo,wFit:MW_Uns_wFit,wHi:MW_Uns_wHi,mLo:MW_Uns_mLo,mFit:MW_Uns_mFit,mHi:MW_Uns_mHi,wObs:MW_Uns_wObs,mObs:MW_Uns_mObs} ],
 [ {wLo:DG_Sin_wLo,wFit:DG_Sin_wFit,wHi:DG_Sin_wHi,mLo:DG_Sin_mLo,mFit:DG_Sin_mFit,mHi:DG_Sin_mHi,wObs:DG_Sin_wObs,mObs:DG_Sin_mObs},
   {wLo:DG_Rel_wLo,wFit:DG_Rel_wFit,wHi:DG_Rel_wHi,mLo:DG_Rel_mLo,mFit:DG_Rel_mFit,mHi:DG_Rel_mHi,wObs:DG_Rel_wObs,mObs:DG_Rel_mObs},
   {wLo:DG_Mar_wLo,wFit:DG_Mar_wFit,wHi:DG_Mar_wHi,mLo:DG_Mar_mLo,mFit:DG_Mar_mFit,mHi:DG_Mar_mHi,wObs:DG_Mar_wObs,mObs:DG_Mar_mObs},
   {wLo:DG_Uns_wLo,wFit:DG_Uns_wFit,wHi:DG_Uns_wHi,mLo:DG_Uns_mLo,mFit:DG_Uns_mFit,mHi:DG_Uns_mHi,wObs:DG_Uns_wObs,mObs:DG_Uns_mObs} ],
 [ {wLo:NS_Sin_wLo,wFit:NS_Sin_wFit,wHi:NS_Sin_wHi,mLo:NS_Sin_mLo,mFit:NS_Sin_mFit,mHi:NS_Sin_mHi,wObs:NS_Sin_wObs,mObs:NS_Sin_mObs},
   {wLo:NS_Rel_wLo,wFit:NS_Rel_wFit,wHi:NS_Rel_wHi,mLo:NS_Rel_mLo,mFit:NS_Rel_mFit,mHi:NS_Rel_mHi,wObs:NS_Rel_wObs,mObs:NS_Rel_mObs},
   {wLo:NS_Mar_wLo,wFit:NS_Mar_wFit,wHi:NS_Mar_wHi,mLo:NS_Mar_mLo,mFit:NS_Mar_mFit,mHi:NS_Mar_mHi,wObs:NS_Mar_wObs,mObs:NS_Mar_mObs},
   {wLo:NS_Uns_wLo,wFit:NS_Uns_wFit,wHi:NS_Uns_wHi,mLo:NS_Uns_mLo,mFit:NS_Uns_mFit,mHi:NS_Uns_mHi,wObs:NS_Uns_wObs,mObs:NS_Uns_mObs} ]
];
const yTicks = [row1Ticks,row2Ticks,row3Ticks,row4Ticks];

// ---------- layout & style ----------
const colLeft = [215.6, 626.8, 1033.8, 1445.3];
const colW = 377;
const rowTop = [214, 538, 860, 1183];
const rowH = [290, 288, 288.5, 288];
const yMin = [-1349, -2315, -53100, -108500];
const yMax = [28750, 50180, 1107400, 2171800];
const WRIB = 'rgba(227,26,28,0.38)', MRIB = 'rgba(26,158,158,0.38)';
const WLINE = '#e31a1c', MLINE = '#1a9e9a';
const DASH = [10, 6];
const OBS_W = 3.8, FIT_W = 3.4;
const FONT = 'Liberation Sans';
const TICKFONT = 'DejaVu Sans';

// smooth path through pixel points (Catmull-Rom -> cubic Bezier)
function smoothPath(p, move) {
  let s = (move ? 'M' : 'L') + p[0][0] + ' ' + p[0][1];
  for (let i = 0; i < p.length - 1; i++) {
    const p0 = p[i - 1] || p[i], p1 = p[i], p2 = p[i + 1], p3 = p[i + 2] || p[i + 1];
    const c1x = p1[0] + (p2[0] - p0[0]) / 6, c1y = p1[1] + (p2[1] - p0[1]) / 6;
    const c2x = p2[0] - (p3[0] - p1[0]) / 6, c2y = p2[1] - (p3[1] - p1[1]) / 6;
    s += ' C' + c1x + ' ' + c1y + ' ' + c2x + ' ' + c2y + ' ' + p2[0] + ' ' + p2[1];
  }
  return s;
}
function ribbonSeries(gi, lo, hi, color) {
  return {
    type: 'custom', xAxisIndex: gi, yAxisIndex: gi, silent: true, animation: false, z: 2, clip: false,
    data: fitAges.map((a, i) => [a, lo[i], hi[i]]),
    encode: {x: 0, y: [1, 2]},
    renderItem: (params, api) => {
      if (params.dataIndex !== 0) return null;
      const up = fitAges.map((a, i) => api.coord([a, hi[i]]));
      const dn = fitAges.map((a, i) => api.coord([a, lo[i]])).reverse();
      return {type: 'path', shape: {pathData: smoothPath(up, true) + ' ' + smoothPath(dn, false) + ' Z'},
              style: {fill: color, stroke: null}};
    }
  };
}
function fitSeries(gi, fit, color, dash) {
  return {
    type: 'custom', xAxisIndex: gi, yAxisIndex: gi, silent: true, animation: false, z: 4, clip: false,
    data: fitAges.map((a, i) => [a, fit[i]]),
    encode: {x: 0, y: 1},
    renderItem: (params, api) => {
      if (params.dataIndex !== 0) return null;
      const p = fitAges.map((a, i) => api.coord([a, fit[i]]));
      return {type: 'path', shape: {pathData: smoothPath(p, true)},
              style: {fill: 'none', stroke: color, lineWidth: FIT_W, lineDash: dash || null, lineJoin: 'round'}};
    }
  };
}

const grids = [], xAxes = [], yAxes = [], series = [];
const pts = (xs, ys) => xs.map((x, i) => [x, ys[i]]);

for (let r = 0; r < 4; r++) {
  for (let c = 0; c < 4; c++) {
    const gi = r * 4 + c;
    const d = panels[r][c];
    grids.push({left: colLeft[c], top: rowTop[r], width: colW, height: rowH[r], containLabel: false, outerBoundsMode: 'none'});
    xAxes.push({
      type: 'value', gridIndex: gi, min: 18, max: 64,
      axisLine: {show: false}, splitLine: {show: false},
      axisTick: {show: r === 3, customValues: xTicks, length: 8, lineStyle: {color: '#cfcfcf', width: 1.5}},
      axisLabel: {show: r === 3, customValues: xTicks, margin: 20, fontSize: 29, fontFamily: TICKFONT, color: '#000'}
    });
    yAxes.push({
      type: 'value', gridIndex: gi, min: yMin[r], max: yMax[r],
      axisLine: {show: false}, splitLine: {show: false}, axisTick: {show: false},
      axisLabel: {show: c === 0, customValues: yTicks[r], margin: 20, fontSize: 29, fontFamily: TICKFONT, color: '#000',
                  formatter: v => Number(v).toLocaleString('en-US')}
    });
    const ticks = yTicks[r];
    const step = ticks[1] - ticks[0];
    const minor = ticks.map(t => t + step / 2).filter(v => v < yMax[r]);
    const base = {xAxisIndex: gi, yAxisIndex: gi, type: 'line', symbol: 'none', silent: true, animation: false};
    series.push(ribbonSeries(gi, d.wLo, d.wHi, WRIB));
    series.push(ribbonSeries(gi, d.mLo, d.mHi, MRIB));
    series.push(fitSeries(gi, d.wFit, WLINE, null));
    series.push(fitSeries(gi, d.mFit, MLINE, DASH));
    series.push({...base, data: pts(ages, d.wObs), lineStyle: {color: '#000', width: OBS_W, join: 'round'}, z: 5,
      markLine: {silent: true, symbol: ['none', 'none'], animation: false, z: 1, label: {show: false}, emphasis: {disabled: true},
        data: ticks.map(v => ({yAxis: v, lineStyle: {color: v === 0 ? '#7a7a7a' : '#d8d8d8', width: v === 0 ? 2.5 : 2, type: 'solid'}}))}});
    series.push({...base, data: pts(ages, d.mObs), lineStyle: {color: '#000', width: OBS_W, type: DASH, join: 'round'}, z: 5,
      markLine: {silent: true, symbol: ['none', 'none'], animation: false, z: 3, label: {show: false}, emphasis: {disabled: true},
        data: minor.map(v => ({yAxis: v, lineStyle: {color: 'rgba(255,255,255,0.55)', width: 1.5, type: 'solid'}}))}});
  }
}

// ---------- texts ----------
const T = (text, x, y, size, opts = {}) => ({type: 'text', x, y, silent: true, rotation: opts.rot || 0, scaleX: opts.sx || 1,
  style: {text, fontSize: size, fontFamily: FONT, fontWeight: opts.bold ? 'bold' : 'normal', fill: '#000',
          align: opts.align || 'center', verticalAlign: 'middle'}});
const graphic = [];
graphic.push(T('Sexual identities of US Facebook users by age, gender, and relationship status', 6, 23, 41, {bold: true, align: 'left', sx: 1.085}));
// legend
graphic.push({type: 'rect', silent: true, shape: {x: 235, y: 68, width: 38, height: 41}, style: {fill: WRIB}});
graphic.push({type: 'line', silent: true, shape: {x1: 238, y1: 88.5, x2: 271, y2: 88.5}, style: {stroke: '#000', lineWidth: 5}});
graphic.push(T('Women', 296, 88, 33, {align: 'left'}));
graphic.push({type: 'rect', silent: true, shape: {x: 431, y: 68, width: 38, height: 41}, style: {fill: MRIB}});
graphic.push({type: 'line', silent: true, shape: {x1: 435, y1: 88.5, x2: 464, y2: 88.5}, style: {stroke: '#000', lineWidth: 5, lineDash: [10, 7]}});
graphic.push(T('Men', 493, 88, 33, {align: 'left'}));
// facet titles
graphic.push(T('Relationship status', 1019, 135, 38));
relationshipStatus.forEach((s, c) => graphic.push(T(s, colLeft[c] + colW / 2, 193.5, 32.5)));
sexuality.forEach((s, r) => graphic.push(T(s, 1840, rowTop[r] + rowH[r] / 2, 33, {rot: -Math.PI / 2})));
graphic.push(T('Sexuality', 1897, 842, 38, {rot: -Math.PI / 2}));
graphic.push(T('Estimate', 19, 842, 38, {rot: Math.PI / 2}));
graphic.push(T('Age (18-64)', 1019, 1547, 37));

const chart = echarts.init(document.getElementById('chart'), null, {renderer: 'canvas'});
chart.setOption({
  animation: false,
  backgroundColor: '#ffffff',
  textStyle: {fontFamily: FONT},
  grid: grids, xAxis: xAxes, yAxis: yAxes, series, graphic
});
</script></body></html>
